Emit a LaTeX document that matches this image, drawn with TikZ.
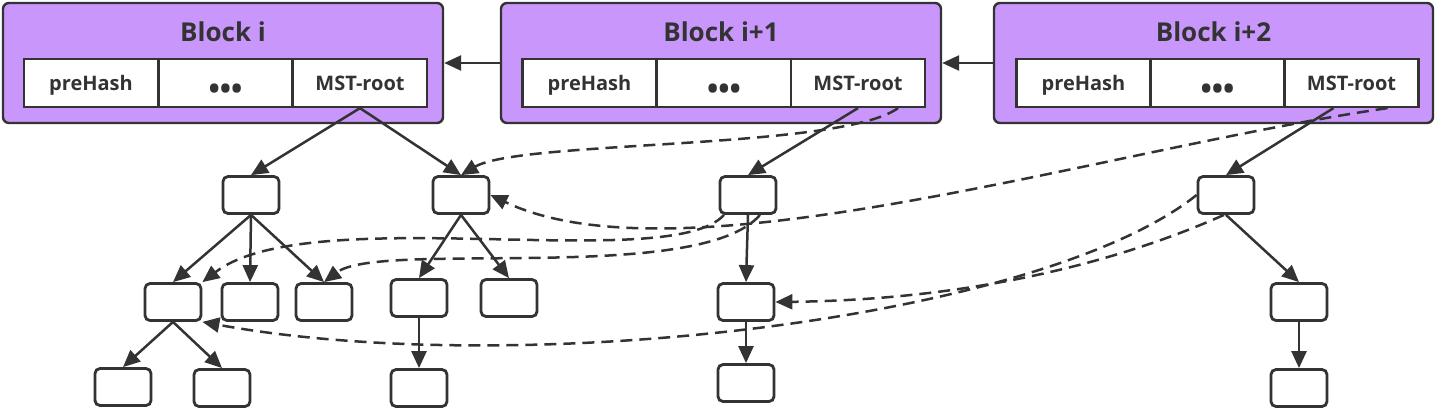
\documentclass[tikz,border=0pt]{standalone}
\usepackage{fontspec}
\setmainfont{Open Sans}
\usetikzlibrary{arrows.meta}
\definecolor{blockfill}{RGB}{201,151,252}
\definecolor{ink}{RGB}{51,51,51}
\newcommand{\celldots}{\raisebox{-4.5pt}{\fontsize{15}{15}\selectfont•••}}

\begin{document}
\begin{tikzpicture}[x=0.5pt,y=-0.5pt,
  block/.style={draw=ink,fill=blockfill,line width=1.2pt,rounded corners=3pt,minimum width=220pt,minimum height=60pt,inner sep=0pt},
  title/.style={text=ink,font=\fontsize{13}{15}\selectfont\bfseries},
  cell/.style={draw=ink,fill=white,line width=1.1pt,minimum width=67pt,minimum height=24pt,inner sep=0pt,text height=7pt,text depth=0pt,text=ink,font=\fontsize{10}{12}\selectfont\bfseries},
  tnode/.style={draw=ink,fill=white,line width=1.4pt,rounded corners=2.5pt,minimum width=28pt,minimum height=18.5pt,inner sep=0pt},
  arr/.style={draw=ink,line width=1.25pt,-{Triangle[length=8.5pt,width=7.5pt]}},
  share/.style={arr,dash pattern=on 6pt off 3.5pt}]
\useasboundingbox (0,0) rectangle (1436,409);

% blocks
\node[block] (b0) at (223,63) {};
\node[block] (b1) at (721,63) {};
\node[block,minimum width=219.5pt] (b2) at (1213.5,63) {};
\node[title] (t0) at ([yshift=15.5pt]b0.center) {Block i};
\node[title] (t1) at ([yshift=15.5pt]b1.center) {Block i+1};
\node[title] (t2) at ([yshift=15.5pt]b2.center) {Block i+2};

\node[cell] (p0) at (91,83) {preHash};
\node[cell] (d0) at (225.5,83) {\celldots};
\node[cell] (m0) at (360,83) {MST-root};
\node[cell] (p1) at (589.5,83) {preHash};
\node[cell] (d1) at (724,83) {\celldots};
\node[cell] (m1) at (858,83) {MST-root};
\node[cell] (p2) at (1083.5,83) {preHash};
\node[cell] (d2) at (1217.5,83) {\celldots};
\node[cell] (m2) at (1351.5,83) {MST-root};

\draw[arr] (b1.west) -- (b0.east);
\draw[arr] (b2.west) -- (b1.east);

% tree nodes
\node[tnode] (A) at (251,195) {};
\node[tnode] (B) at (461,195) {};
\node[tnode] (C) at (173,302) {};
\node[tnode] (D) at (250,302) {};
\node[tnode] (E) at (324,302) {};
\node[tnode] (F) at (419,298) {};
\node[tnode] (G) at (509,298) {};
\node[tnode] (H) at (123,387) {};
\node[tnode] (I) at (222,388) {};
\node[tnode] (J) at (419,388) {};
\node[tnode] (K) at (748,195) {};
\node[tnode] (L) at (746,302) {};
\node[tnode] (M) at (746,383) {};
\node[tnode] (N) at (1226,195) {};
\node[tnode] (O) at (1299,302) {};
\node[tnode] (P) at (1299,388) {};

% tree edges
\draw[arr] (m0.south) -- (A.north);
\draw[arr] (m0.south) -- (B.north);
\draw[arr] (m1.south) -- (K.north);
\draw[arr] ([xshift=-9pt]m2.south) -- (N.north);
\draw[arr] (A.south) -- (C.north);
\draw[arr] (A.south) -- (D.north);
\draw[arr] (A.south) -- (E.north);
\draw[arr] (B.south) -- (F.north);
\draw[arr] (B.south) -- (G.north);
\draw[arr] (C.south) -- (H.north);
\draw[arr] (C.south) -- (I.north);
\draw[arr] (F.south) -- (J.north);
\draw[arr] (K.south) -- (L.north);
\draw[arr] (L.south) -- (M.north);
\draw[arr] (N.south) -- (O.north);
\draw[arr] (O.south) -- (P.north);

% shared subtrees
\draw[share] ([xshift=20pt]m1.south) .. controls (840,150) and (520,140) .. (B.north);
\draw[share] ([xshift=18pt]m2.south) .. controls (1100,150) and (680,285) .. (B.east);
\draw[share] ([xshift=-12pt]K.south) .. controls (670,275) and (310,200) .. (C.north east);
\draw[share] ([xshift=6pt]K.south) .. controls (700,285) and (380,240) .. (E.north);
\draw[share] (N.west) .. controls (1040,320) and (520,380) .. (C.south east);
\draw[share] ([xshift=-1pt]N.south) .. controls (1100,270) and (950,300) .. (L.east);
\end{tikzpicture}
\end{document}
